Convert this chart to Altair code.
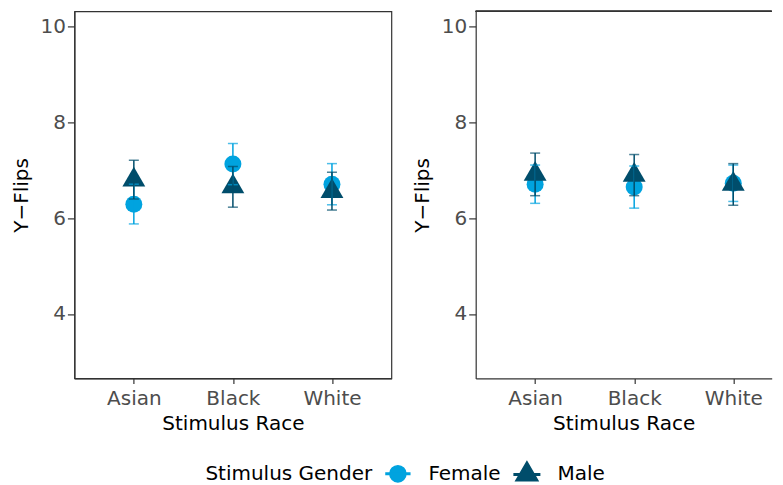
import altair as alt
import pandas as pd

races = ["Asian", "Black", "White"]
genders = ["Female", "Male"]
colors = ["#00A3DF", "#004D6B"]

# Left panel (mean, lower, upper) per race
left_female_mean = [6.29, 7.13, 6.71]
left_female_lo = [5.88, 6.70, 6.28]
left_female_hi = [6.71, 7.56, 7.14]
left_male_mean = [6.80, 6.66, 6.56]
left_male_lo = [6.40, 6.23, 6.17]
left_male_hi = [7.21, 7.08, 6.96]

# Right panel
right_female_mean = [6.71, 6.65, 6.73]
right_female_lo = [6.31, 6.21, 6.35]
right_female_hi = [7.11, 7.09, 7.11]
right_male_mean = [6.92, 6.90, 6.71]
right_male_lo = [6.47, 6.47, 6.27]
right_male_hi = [7.36, 7.33, 7.14]

y_ticks = [4, 6, 8, 10]
y_domain = [2.653, 10.32]

FONT = "DejaVu Sans"
FS = 20
PANEL_H = 367
LEFT_W = 317
RIGHT_W = 296
STEP = LEFT_W / 3.2


def make_df(f_mean, f_lo, f_hi, m_mean, m_lo, m_hi):
    rows = []
    for g, mean, lo, hi in [("Female", f_mean, f_lo, f_hi), ("Male", m_mean, m_lo, m_hi)]:
        for i, r in enumerate(races):
            rows.append({"race": r, "idx": i + 1, "Stimulus Gender": g,
                         "mean": mean[i], "lo": lo[i], "hi": hi[i]})
    return pd.DataFrame(rows)


label_expr = "[" + ",".join(f"'{r}'" for r in races) + "][datum.value - 1]"

point_shapes = {"Female": "circle", "Male": "M0,-1.553L1.345,0.777L-1.345,0.777Z"}
# legend keys: symbol with a horizontal error-bar stroke through it
circle_leg = ("M-0.95,0A0.95,0.95 0 1,1 0.95,0A0.95,0.95 0 1,1 -0.95,0Z "
              "M-1.4,-0.09H1.4V0.09H-1.4Z")
tri_leg = "M0,-1.5L1.3,0.75L-1.3,0.75Z M-1.5,-0.09H1.5V0.09H-1.5Z"

color_scale = alt.Scale(domain=genders, range=colors)
legend_shape_scale = alt.Scale(domain=genders, range=[circle_leg, tri_leg])

LEGEND = alt.Legend(orient="none", legendX=131, legendY=452, direction="horizontal",
                    titleOrient="left", title="Stimulus Gender",
                    titleFont=FONT, titleFontSize=FS, titleFontWeight="normal",
                    titleColor="black", titlePadding=15.5, titleBaseline="middle",
                    labelFont=FONT, labelFontSize=FS, labelColor="black",
                    labelOffset=20.5, columnPadding=10, symbolSize=289, symbolOpacity=1)


def panel(df, width, with_legend, border):
    x_max = 0.4 + width / STEP
    xs = alt.Scale(domain=[0.4, x_max], nice=False, zero=False)
    ys = alt.Scale(domain=y_domain, nice=False, zero=False)
    x = alt.X("idx:Q", scale=xs, title="Stimulus Race",
              axis=alt.Axis(values=[1, 2, 3], labelExpr=label_expr, grid=False))
    y = alt.Y("mean:Q", scale=ys, title="Y\u2212Flips",
              axis=alt.Axis(values=y_ticks, grid=False))
    base = alt.Chart(df)
    leg = LEGEND if with_legend else None
    col = alt.Color("Stimulus Gender:N", scale=color_scale, legend=leg)
    layers = []
    for g in genders:
        sub = base.transform_filter(alt.datum["Stimulus Gender"] == g)
        layers.append(sub.mark_point(filled=True, size=289, opacity=1,
                                     shape=point_shapes[g]).encode(x=x, y=y, color=col))
    for g in genders:
        sub = base.transform_filter(alt.datum["Stimulus Gender"] == g)
        layers.append(sub.mark_rule(strokeWidth=1.5).encode(
            x=alt.X("idx:Q", scale=xs), y=alt.Y("lo:Q", scale=ys), y2="hi:Q", color=col))
        layers.append(sub.mark_tick(orient="horizontal", size=10, thickness=1.5).encode(
            x=alt.X("idx:Q", scale=xs), y=alt.Y("lo:Q", scale=ys), color=col))
        layers.append(sub.mark_tick(orient="horizontal", size=10, thickness=1.5).encode(
            x=alt.X("idx:Q", scale=xs), y=alt.Y("hi:Q", scale=ys), color=col))
    if with_legend:
        # legend-only layer: placed below the panel and clipped away
        layers.append(base.mark_point(filled=True, size=289, opacity=1, clip=True).encode(
            x=alt.X("idx:Q", scale=xs), y=alt.datum(0), color=col,
            shape=alt.Shape("Stimulus Gender:N", scale=legend_shape_scale, legend=leg),
        ))
    if border:
        view = alt.ViewBackground(stroke="#333333", strokeWidth=1.2)
    else:
        view = alt.ViewBackground(stroke="transparent")
        layers.append(base.mark_rule(color="#333333", strokeWidth=1.2).encode(
            x=alt.value(0), x2=alt.value(width), y=alt.value(0)))
    return alt.layer(*layers).properties(width=width, height=PANEL_H, view=view)


left_df = make_df(left_female_mean, left_female_lo, left_female_hi,
                  left_male_mean, left_male_lo, left_male_hi)
right_df = make_df(right_female_mean, right_female_lo, right_female_hi,
                   right_male_mean, right_male_lo, right_male_hi)

left = panel(left_df, LEFT_W, True, True)
right = panel(right_df, RIGHT_W, False, False)

chart = alt.hconcat(left, right, spacing=19.3).properties(
    padding={"left": 2.4, "top": 1.4, "right": 0, "bottom": 52}
).configure_axis(
    labelFont=FONT, labelFontSize=FS, labelColor="#4D4D4D",
    titleFont=FONT, titleFontSize=FS, titleColor="black", titleFontWeight="normal",
    tickColor="#333333", tickSize=7, tickWidth=1.2, labelPadding=2,
    domainColor="#333333", domainWidth=1.2, grid=False,
).configure_axisY(titlePadding=8.5).configure_axisX(titlePadding=5, tickSize=5, labelPadding=5)

chart.save("out.html", embed_options={"renderer": "svg", "actions": False})
